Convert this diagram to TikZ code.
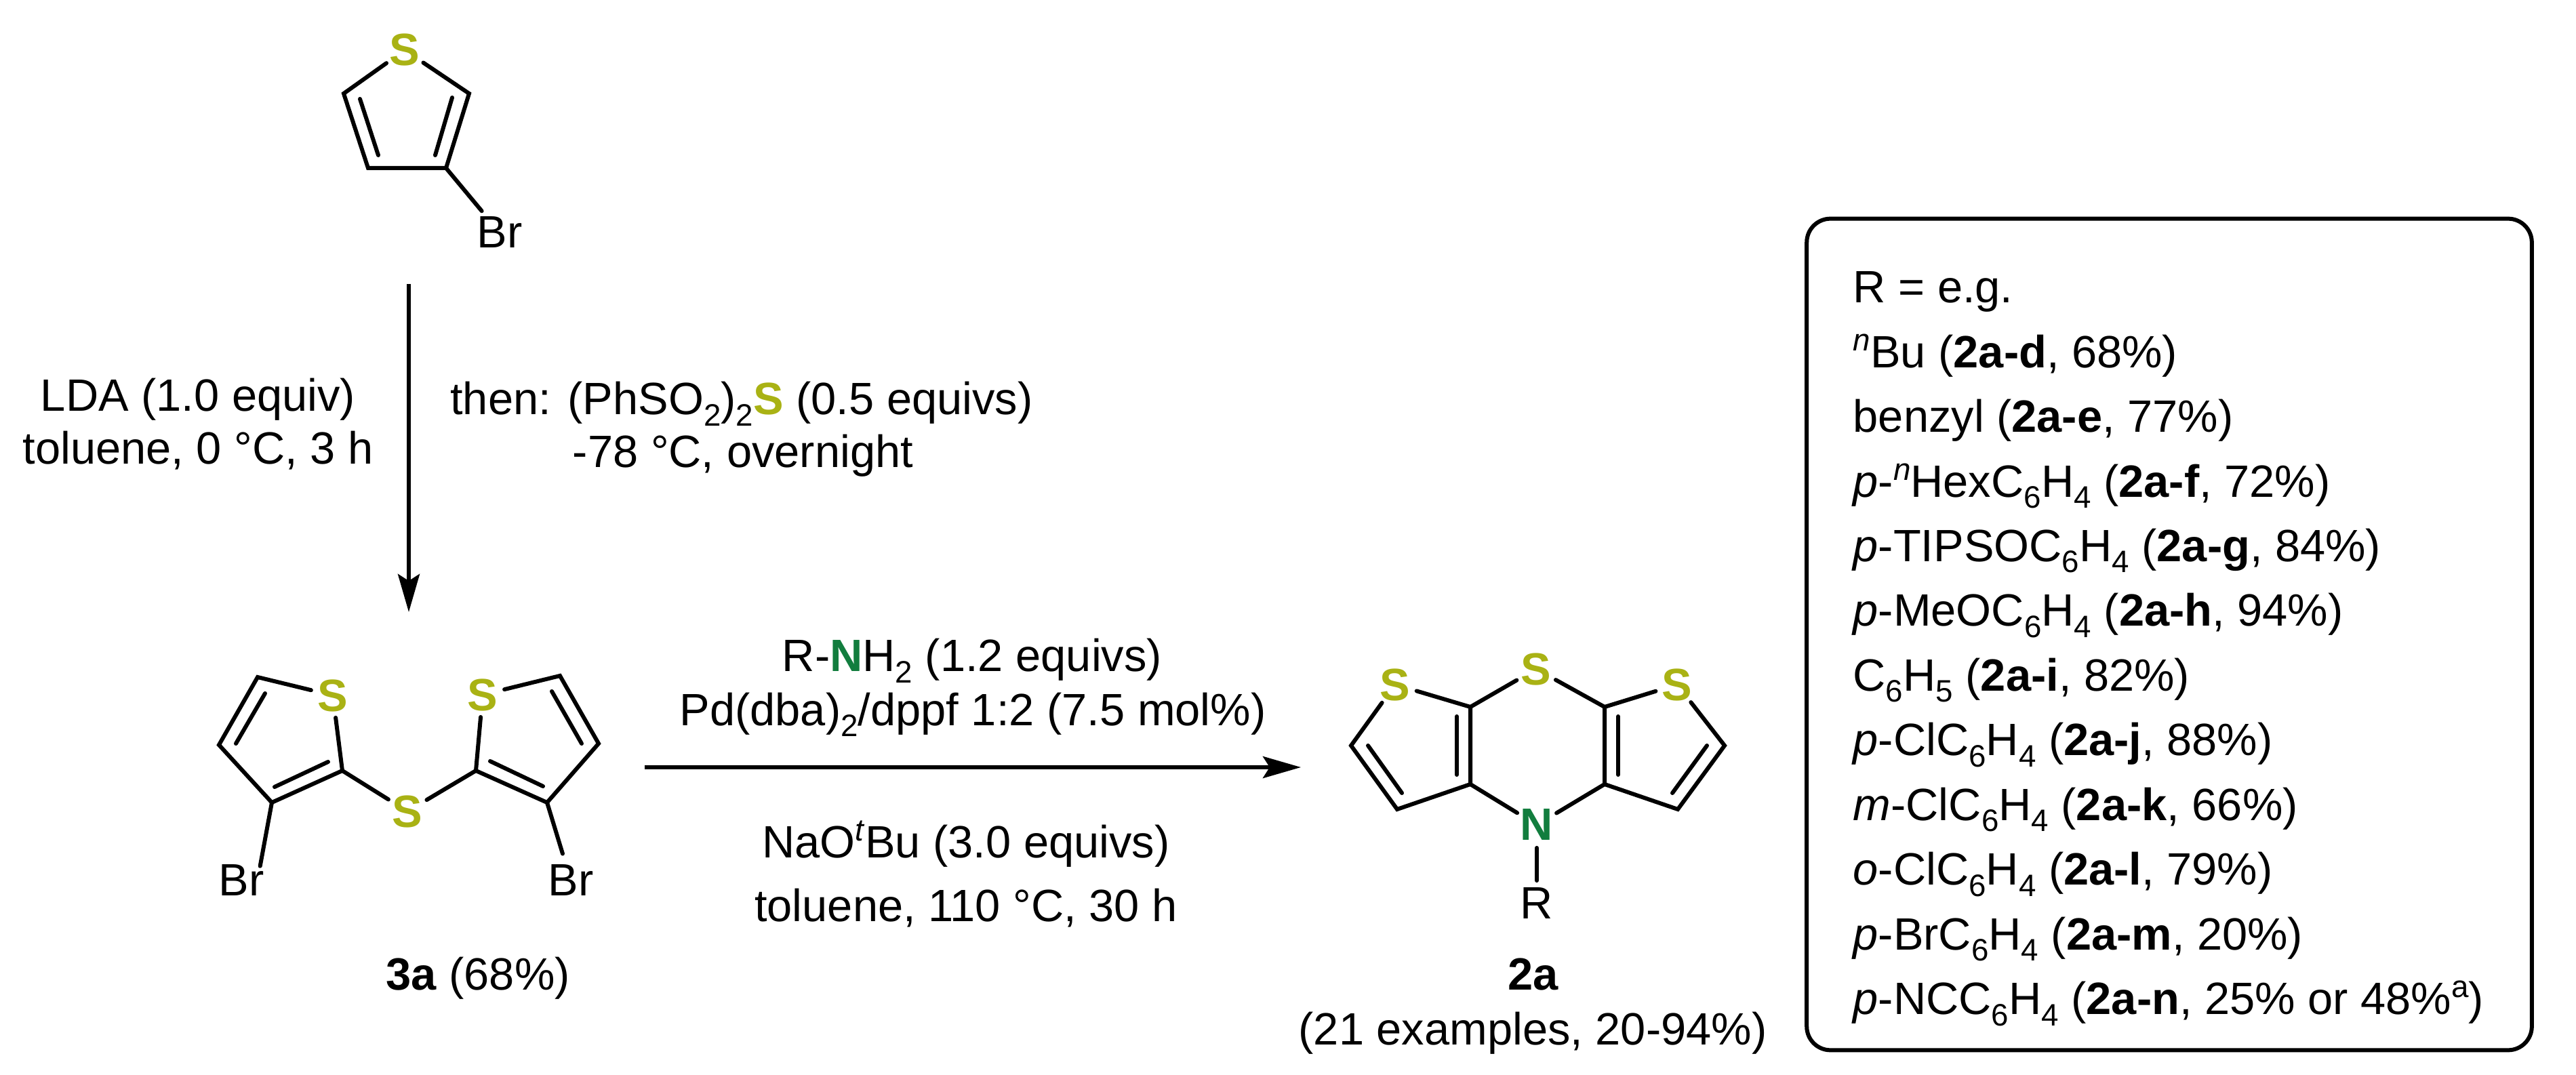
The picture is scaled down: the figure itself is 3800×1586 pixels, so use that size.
\documentclass[tikz,border=0pt]{standalone}
\usepackage{xcolor}
\usepackage{fontspec}
\setmainfont{Liberation Sans}
\usepackage{tikz}
\usetikzlibrary{arrows.meta}
\definecolor{sulfur}{RGB}{169,178,20}
\definecolor{nitrogen}{RGB}{18,125,62}
\newcommand{\lo}[1]{\raisebox{-4.7pt}{\fontsize{13}{14}\selectfont #1}}
\newcommand{\hi}[1]{\raisebox{7pt}{\fontsize{13}{14}\selectfont #1}}
\tikzset{
  txt/.style={inner sep=0pt, font=\fontsize{19}{27.14}\selectfont},
  cond/.style={txt, anchor=base},
  atom/.style={txt, circle, text=black},
  satom/.style={atom, text=sulfur, font=\fontsize{19}{27.14}\selectfont\bfseries},
  natom/.style={atom, text=nitrogen, font=\fontsize{19}{27.14}\selectfont\bfseries},
  bond/.style={line width=0.06cm, line cap=round, line join=miter},
  rxn/.style={line width=0.055cm, -{Stealth[length=0.56cm, width=0.32cm, inset=0.1cm]}},
}
\begin{document}
\begin{tikzpicture}[x=0.01cm, y=-0.01cm]
\useasboundingbox (0,0) rectangle (3800,1586);
% bromothiophene
\node [satom] (S1) at (597,74) {S};
\node [atom] (Br1) at (737,343) {Br};
\coordinate (t1) at (507,138);
\coordinate (t2) at (543,248);
\coordinate (t3) at (658,248);
\coordinate (t4) at (692,138);
\coordinate (t1a) at (531,146);
\coordinate (t2a) at (558,229);
\coordinate (t3a) at (642,229);
\coordinate (t4a) at (667,144);
\draw [bond] (S1) -- (t1) -- (t2) -- (t3) -- (t4) -- (S1);
\draw [bond] (t3) -- (Br1);
\draw [bond] (t1a) -- (t2a);
\draw [bond] (t3a) -- (t4a);
% sulfide 3a
\node [satom] (S2) at (491,1026) {S};
\node [satom] (S3) at (601,1197) {S};
\node [satom] (S4) at (712,1025) {S};
\node [atom] (Br2) at (356,1299) {Br};
\node [atom] (Br3) at (842,1299) {Br};
\coordinate (a1) at (380,999);
\coordinate (a2) at (323,1099);
\coordinate (a3) at (401,1184);
\coordinate (a4) at (505,1137);
\coordinate (b1) at (826,997);
\coordinate (b2) at (883,1097);
\coordinate (b3) at (807,1184);
\coordinate (b4) at (702,1137);
\coordinate (a1i) at (391,1023);
\coordinate (a2i) at (348,1097);
\coordinate (a3i) at (405,1161);
\coordinate (a4i) at (484,1124);
\coordinate (b1i) at (814,1020);
\coordinate (b2i) at (858,1097);
\coordinate (b3i) at (801,1160);
\coordinate (b4i) at (723,1123);
\draw [bond] (S2) -- (a1) -- (a2) -- (a3) -- (a4) -- (S2);
\draw [bond] (S4) -- (b1) -- (b2) -- (b3) -- (b4) -- (S4);
\draw [bond] (a4) -- (S3) -- (b4);
\draw [bond, shorten >=-0.08cm] (a3) -- (Br2.45);
\draw [bond] (b3) -- (Br3);
\draw [bond] (a1i) -- (a2i);
\draw [bond] (a3i) -- (a4i);
\draw [bond] (b1i) -- (b2i);
\draw [bond] (b3i) -- (b4i);
\node [cond] (lab3a) at (705,1460) {\textbf{3a} (68\%)};
% tricycle 2a
\node [satom] (S5) at (2266,987) {S};
\node [satom] (S6) at (2058,1010) {S};
\node [satom] (S7) at (2474,1010) {S};
\node [natom] (N1) at (2267,1217) {N};
\node [atom] (R1) at (2267,1333) {R};
\coordinate (c1) at (2169,1043);
\coordinate (c2) at (2169,1157);
\coordinate (c3) at (2061,1194);
\coordinate (c4) at (1993,1100);
\coordinate (d1) at (2367,1043);
\coordinate (d2) at (2367,1157);
\coordinate (d3) at (2475,1194);
\coordinate (d4) at (2544,1100);
\coordinate (c1i) at (2149,1057);
\coordinate (c2i) at (2149,1143);
\coordinate (c3i) at (2068,1170);
\coordinate (c4i) at (2018,1100);
\coordinate (d1i) at (2387,1057);
\coordinate (d2i) at (2387,1143);
\coordinate (d3i) at (2467,1170);
\coordinate (d4i) at (2518,1100);
\draw [bond] (S6) -- (c1) -- (c2) -- (c3) -- (c4) -- (S6);
\draw [bond] (S7) -- (d1) -- (d2) -- (d3) -- (d4) -- (S7);
\draw [bond] (c1) -- (S5) -- (d1);
\draw [bond] (c2) -- (N1) -- (d2);
\draw [bond] (N1) -- (R1);
\draw [bond] (c1i) -- (c2i);
\draw [bond] (c3i) -- (c4i);
\draw [bond] (d1i) -- (d2i);
\draw [bond] (d3i) -- (d4i);
\node [cond] (lab2a) at (2262,1460) {\textbf{2a}};
\node [cond] (scope2a) at (2261,1541) {(21 examples, 20-94\%)};
% first step
\coordinate (v1) at (603,419);
\coordinate (v2) at (603,903);
\draw [rxn] (v1) -- (v2);
\node [cond] (lda) at (292,607) {LDA (1.0 equiv)};
\node [cond] (ldacond) at (292,685) {toluene, 0 °C, 3 h};
\node [cond] (sulf) at (1094,612) {then: (PhSO\lo{2})\lo{2}\textbf{\textcolor{sulfur}{S}} (0.5 equivs)};
\node [cond] (sulfcond) at (1096,690) {-78 °C, overnight};
% second step
\coordinate (h1) at (951,1132);
\coordinate (h2) at (1919,1132);
\draw [rxn] (h1) -- (h2);
\node [cond] (amine) at (1434,991) {R-\textbf{\textcolor{nitrogen}{N}}H\lo{2} (1.2 equivs)};
\node [cond] (cat) at (1435,1070) {Pd(dba)\lo{2}/dppf 1:2 (7.5 mol\%)};
\node [cond] (base) at (1425,1265) {NaO\hi{\textit{t}}Bu (3.0 equivs)};
\node [cond] (basecond) at (1425,1359) {toluene, 110 °C, 30 h};
% scope box
\node [draw, line width=0.06cm, rounded corners=0.35cm, minimum width=10.69cm, minimum height=12.26cm, inner sep=0pt] (scopebox) at (3200,936) {};
\node [txt, anchor=north west, align=left] (scope) at (2733,400) {R = e.g.\\
\hi{\textit{n}}Bu (\textbf{2a-d}, 68\%)\\
benzyl (\textbf{2a-e}, 77\%)\\
\textit{p}-\hi{\textit{n}}HexC\lo{6}H\lo{4} (\textbf{2a-f}, 72\%)\\
\textit{p}-TIPSOC\lo{6}H\lo{4} (\textbf{2a-g}, 84\%)\\
\textit{p}-MeOC\lo{6}H\lo{4} (\textbf{2a-h}, 94\%)\\
C\lo{6}H\lo{5} (\textbf{2a-i}, 82\%)\\
\textit{p}-ClC\lo{6}H\lo{4} (\textbf{2a-j}, 88\%)\\
\textit{m}-ClC\lo{6}H\lo{4} (\textbf{2a-k}, 66\%)\\
\textit{o}-ClC\lo{6}H\lo{4} (\textbf{2a-l}, 79\%)\\
\textit{p}-BrC\lo{6}H\lo{4} (\textbf{2a-m}, 20\%)\\
\textit{p}-NCC\lo{6}H\lo{4} (\textbf{2a-n}, 25\% or 48\%\hi{a})};
\end{tikzpicture}
\end{document}
